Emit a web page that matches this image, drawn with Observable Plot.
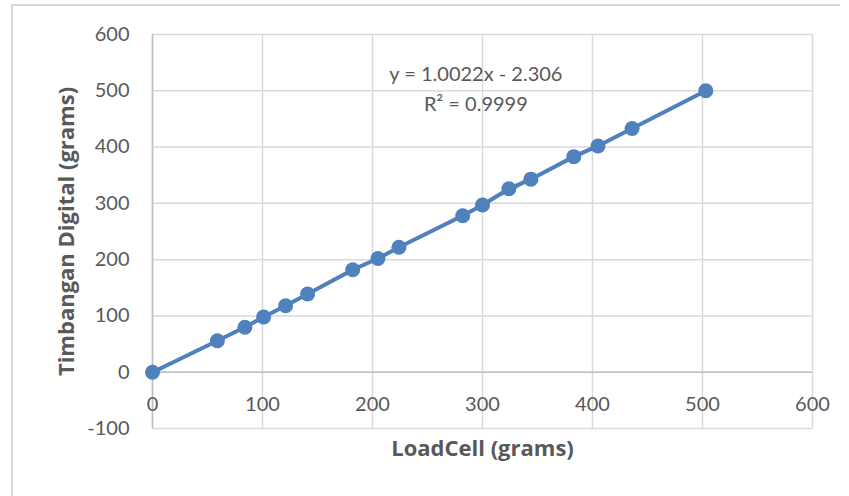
<!DOCTYPE html>
<html>
<head>
<meta charset="utf-8">
<script src="https://cdn.jsdelivr.net/npm/d3@7"></script>
<script src="https://cdn.jsdelivr.net/npm/@observablehq/plot@0.6"></script>
<style>
  html, body { margin: 0; padding: 0; background: #ffffff; overflow: hidden; }
  #chart { position: absolute; left: 0; top: 0; }
  #frame { position: absolute; left: 11px; top: 4px; width: 827px; height: 520px;
           border-top: 2px solid #d9d9d9; border-left: 2px solid #d9d9d9; pointer-events: none; }
</style>
</head>
<body>
<div id="chart"></div>
<div id="frame"></div>
<script>
// Data
const loadCell = [0, 59, 84, 101, 121, 141, 182, 205, 224, 282, 300, 324, 344, 383, 405, 436, 503];
const timbangan = [0, 56, 80, 98, 118, 139, 182, 202, 222, 278, 297, 326, 343, 383, 402, 433, 500];
const xTicks = [0, 100, 200, 300, 400, 500, 600];
const yTicks = [-100, 0, 100, 200, 300, 400, 500, 600];
const xTitle = "LoadCell (grams)";
const yTitle = "Timbangan Digital (grams)";
const eqLabels = ["y = 1.0022x - 2.306", "R² = 0.9999"];
const eqX = [294, 294];
const eqY = [528, 476];

const data = loadCell.map((x, i) => ({x, y: timbangan[i]}));
const eqData = eqLabels.map((t, i) => ({t, x: eqX[i], y: eqY[i]}));

const blue = "#4f81bd";
const textGray = "#595959";
const titleFont = "'Open Sans', Lato, sans-serif";

const chart = Plot.plot({
  width: 849,
  height: 496,
  marginLeft: 152,
  marginRight: 37,
  marginTop: 34,
  marginBottom: 68,
  style: { fontFamily: "Lato, 'Open Sans', sans-serif", fontSize: "20px", color: textGray, background: "transparent", overflow: "visible" },
  x: { domain: [0, 600], ticks: xTicks, label: null, axis: null },
  y: { domain: [-100, 600], ticks: yTicks, label: null },
  marks: [
    Plot.gridX(xTicks, { stroke: "#d9d9d9", strokeOpacity: 1, strokeWidth: 1.5 }),
    Plot.gridY(yTicks, { stroke: "#d9d9d9", strokeOpacity: 1, strokeWidth: 1.5 }),
    Plot.ruleY([0], { stroke: "#bfbfbf", strokeWidth: 1.5 }),
    Plot.ruleX([0], { stroke: "#bfbfbf", strokeWidth: 1.5 }),
    Plot.axisY(yTicks, { tickSize: 0, tickPadding: 23, fontSize: 20, fill: textGray, label: null, tickFormat: d => String(d) }),
    Plot.text(xTicks, { x: d => d, y: () => 0, dy: 32, text: d => String(d), fontSize: 20, fill: textGray }),
    Plot.line(data, { x: "x", y: "y", stroke: blue, strokeWidth: 4, strokeLinejoin: "round" }),
    Plot.linearRegressionY(data, { x: "x", y: "y", ci: 0, stroke: blue, strokeWidth: 2, strokeDasharray: "2,2" }),
    Plot.dot(data, { x: "x", y: "y", r: 7.5, fill: blue, stroke: null }),
    Plot.text(eqData, { x: "x", y: "y", text: "t", fontSize: 20, fill: textGray }),
    Plot.text([xTitle], { frameAnchor: "bottom", dy: 27, text: d => d, fontSize: 22, fontWeight: "bold", fontFamily: titleFont, fill: textGray, textAnchor: "middle" }),
    Plot.text([yTitle], { frameAnchor: "left", dx: -86, rotate: -90, text: d => d, fontSize: 22, fontWeight: "bold", fontFamily: titleFont, fill: textGray, textAnchor: "middle" })
  ]
});
document.getElementById("chart").appendChild(chart);
</script>
</body>
</html>
